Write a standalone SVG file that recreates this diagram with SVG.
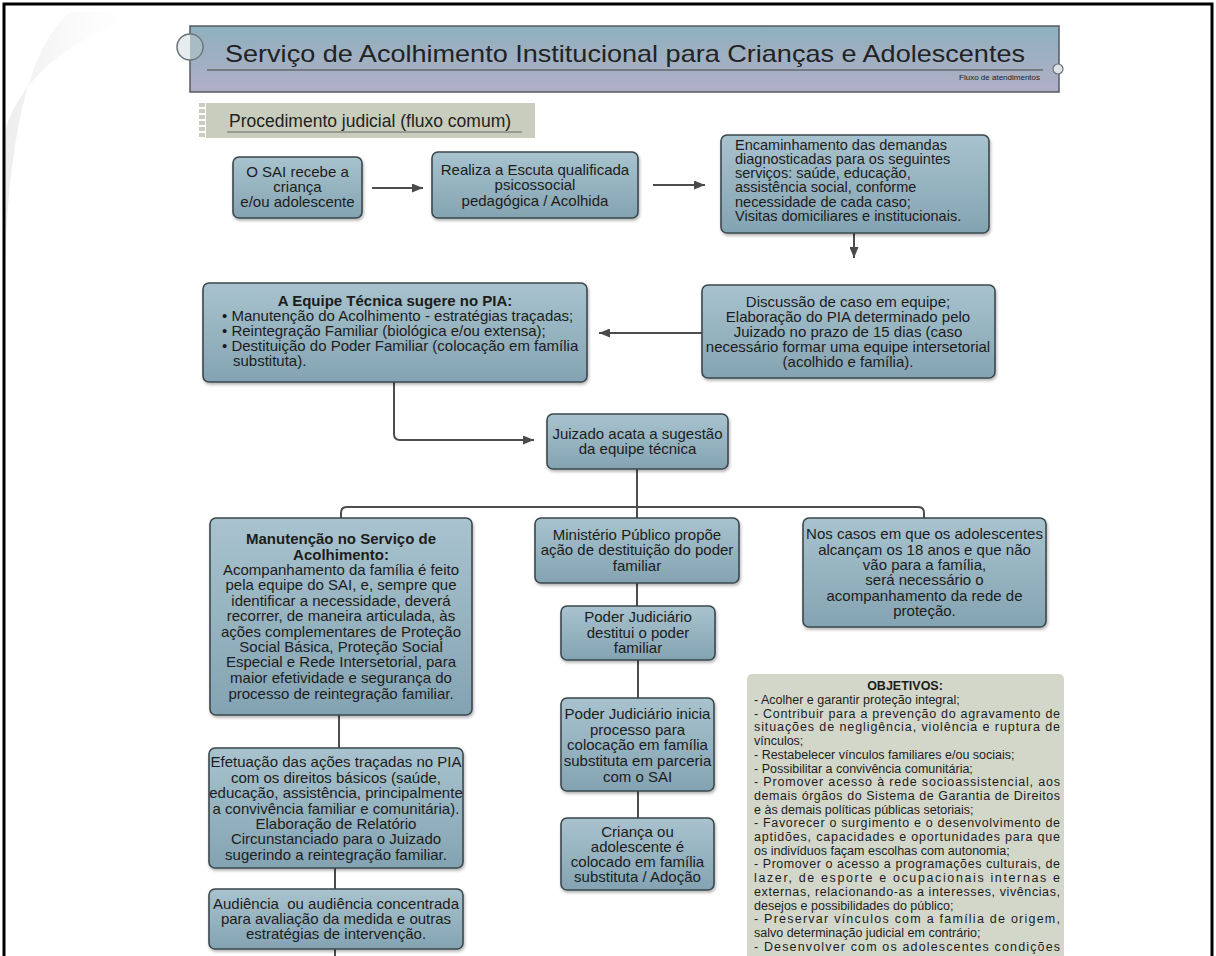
<svg xmlns="http://www.w3.org/2000/svg" width="1216" height="956" viewBox="0 0 1216 956">
<defs>
<linearGradient id="gBox" x1="0" y1="0" x2="0" y2="1">
<stop offset="0" stop-color="#a8c3ce"/>
<stop offset="1" stop-color="#84a3b2"/>
</linearGradient>
<linearGradient id="gBanner" x1="0" y1="0" x2="0" y2="1">
<stop offset="0" stop-color="#8eb0bd"/>
<stop offset="1" stop-color="#b2afc8"/>
</linearGradient>
<linearGradient id="gShade" x1="0" y1="0" x2="1" y2="0">
<stop offset="0" stop-color="#e8e8e8"/>
<stop offset="1" stop-color="#ffffff" stop-opacity="0"/>
</linearGradient>
<filter id="sh" x="-10%" y="-10%" width="130%" height="130%">
<feDropShadow dx="1" dy="2" stdDeviation="1.5" flood-color="#000" flood-opacity="0.3"/>
</filter>
<marker id="ah" markerUnits="userSpaceOnUse" markerWidth="11" markerHeight="9" refX="11" refY="4.5" orient="auto">
<path d="M0,0 L11,4.5 L0,9 Z" fill="#4a4a4a"/>
</marker>
<style>
.box { fill: url(#gBox); stroke: #3b484e; stroke-width: 1.6; filter: url(#sh); }
.t { font-family: "Liberation Sans", Arial, sans-serif; font-size: 15px; fill: #1c1c1c; text-anchor: middle; }
.l { text-anchor: start; }
.b { font-weight: bold; }
.s { font-size: 14.5px; }
.o { font-family: "Liberation Sans", Arial, sans-serif; font-size: 12.5px; fill: #1c1c1c; }
.conn { stroke: #4d4d4d; stroke-width: 2; fill: none; }
</style>
</defs>
<rect x="0" y="0" width="1216" height="956" fill="#ffffff"/>
<path d="M5,130 Q30,50 150,12 L70,12 Q12,60 5,260 Z" fill="url(#gShade)" opacity="0.8"/>
<path d="M4,956 V4 H1212 V956" fill="none" stroke="#000" stroke-width="3"/>

<g id="title">
<rect x="190" y="26" width="869" height="66" fill="url(#gBanner)" stroke="#555a60" stroke-width="1.5"/>
<circle cx="190" cy="47" r="13" fill="#e9ecee" stroke="#6a7379" stroke-width="1.5"/>
<path d="M190,34 A13,13 0 0 1 190,60" fill="#a8bcc6" stroke="#6a7379" stroke-width="1"/>
<circle cx="1058" cy="69" r="5" fill="#e0e3e6" stroke="#6a7379" stroke-width="1.2"/>
<line x1="207" y1="70" x2="1043" y2="70" stroke="#444" stroke-width="1"/>
<text x="225" y="62" font-family="Liberation Sans, Arial, sans-serif" font-size="24" fill="#222" textLength="800" lengthAdjust="spacingAndGlyphs">Serviço de Acolhimento Institucional para Crianças e Adolescentes</text>
<text x="1040" y="80" font-family="Liberation Sans, Arial, sans-serif" font-size="8" fill="#222" text-anchor="end">Fluxo de atendimentos</text>
</g>

<g id="procedimento">
<rect x="203" y="103" width="332" height="35" fill="#c9cdbd"/>
<rect x="198" y="103" width="8" height="35" fill="#ffffff"/>
<path d="M199,105 h6 M199,111 h6 M199,117 h6 M199,123 h6 M199,129 h6 M199,135 h6" stroke="#c9cdbd" stroke-width="4"/>
<line x1="227" y1="132" x2="522" y2="132" stroke="#6b6b6b" stroke-width="1"/>
<text x="229" y="127" font-family="Liberation Sans, Arial, sans-serif" font-size="17.5" fill="#222">Procedimento judicial (fluxo comum)</text>
</g>

<g id="connectors">
<line class="conn" x1="372" y1="188" x2="423" y2="188" marker-end="url(#ah)"/>
<line class="conn" x1="653" y1="185" x2="705" y2="185" marker-end="url(#ah)"/>
<line class="conn" x1="854" y1="233" x2="854" y2="258" marker-end="url(#ah)"/>
<line class="conn" x1="702" y1="333" x2="599" y2="333" marker-end="url(#ah)"/>
<path class="conn" d="M394,382 V434 Q394,440 400,440 H534" marker-end="url(#ah)"/>
<path class="conn" d="M637,469 V518"/>
<path class="conn" d="M341,518 V513 Q341,507 347,507 H918 Q924,507 924,513 V518"/>
<path class="conn" d="M637,583 V606"/>
<path class="conn" d="M638,660 V698"/>
<path class="conn" d="M638,791 V818"/>
<path class="conn" d="M339,715 V748"/>
<path class="conn" d="M335,868 V889"/>
<path class="conn" d="M335,949 V958"/>
</g>

<g id="n-recebe">
<rect class="box" x="233" y="157" width="129" height="61" rx="6"/>
<text class="t" x="297.5" y="177">O SAI recebe a</text>
<text class="t" x="297.5" y="192">criança</text>
<text class="t" x="297.5" y="207">e/ou adolescente</text>
</g>

<g id="n-escuta">
<rect class="box" x="432" y="152" width="206" height="66" rx="6"/>
<text class="t" x="535" y="174.5">Realiza a Escuta qualificada</text>
<text class="t" x="535" y="190">psicossocial</text>
<text class="t" x="535" y="206">pedagógica / Acolhida</text>
</g>

<g id="n-encaminhamento">
<rect class="box" x="721" y="135" width="268" height="98" rx="6"/>
<text class="t l s" x="735" y="149.5">Encaminhamento das demandas</text>
<text class="t l s" x="735" y="163.8">diagnosticadas para os seguintes</text>
<text class="t l s" x="735" y="178.1">serviços: saúde, educação,</text>
<text class="t l s" x="735" y="192.4">assistência social, conforme</text>
<text class="t l s" x="735" y="206.7">necessidade de cada caso;</text>
<text class="t l s" x="735" y="221">Visitas domiciliares e institucionais.</text>
</g>

<g id="n-discussao">
<rect class="box" x="702" y="285" width="293" height="93" rx="6"/>
<text class="t" x="848" y="306.5">Discussão de caso em equipe;</text>
<text class="t" x="848" y="321.5">Elaboração do PIA determinado pelo</text>
<text class="t" x="848" y="336.5">Juizado no prazo de 15 dias (caso</text>
<text class="t" x="848" y="351.5">necessário formar uma equipe intersetorial</text>
<text class="t" x="848" y="366.5">(acolhido e família).</text>
</g>

<g id="n-equipe">
<rect class="box" x="203" y="283" width="384" height="99" rx="6"/>
<text class="t b" x="395" y="306">A Equipe Técnica sugere no PIA:</text>
<text class="t l" x="222" y="321">• Manutenção do Acolhimento - estratégias traçadas;</text>
<text class="t l" x="222" y="336">• Reintegração Familiar (biológica e/ou extensa);</text>
<text class="t l" x="222" y="351">• Destituição do Poder Familiar (colocação em família</text>
<text class="t l" x="233" y="366">substituta).</text>
</g>

<g id="n-juizado">
<rect class="box" x="547" y="414" width="181" height="55" rx="6"/>
<text class="t" x="637.5" y="439">Juizado acata a sugestão</text>
<text class="t" x="637.5" y="454">da equipe técnica</text>
</g>

<g id="n-manutencao">
<rect class="box" x="210" y="518" width="262" height="197" rx="6"/>
<text class="t b" x="341" y="543.5">Manutenção no Serviço de</text>
<text class="t b" x="341" y="559.5">Acolhimento:</text>
<text class="t" x="341" y="574.5">Acompanhamento da família é feito</text>
<text class="t" x="341" y="590">pela equipe do SAI, e, sempre que</text>
<text class="t" x="341" y="605.5">identificar a necessidade, deverá</text>
<text class="t" x="341" y="621">recorrer, de maneira articulada, às</text>
<text class="t" x="341" y="636.5">ações complementares de Proteção</text>
<text class="t" x="341" y="652">Social Básica, Proteção Social</text>
<text class="t" x="341" y="667">Especial e Rede Intersetorial, para</text>
<text class="t" x="341" y="682.5">maior efetividade e segurança do</text>
<text class="t" x="341" y="698.5">processo de reintegração familiar.</text>
</g>

<g id="n-efetuacao">
<rect class="box" x="209" y="748" width="254" height="120" rx="6"/>
<text class="t" x="336" y="767">Efetuação das ações traçadas no PIA</text>
<text class="t" x="336" y="782.5">com os direitos básicos (saúde,</text>
<text class="t" x="336" y="798">educação, assistência, principalmente</text>
<text class="t" x="336" y="813.5">a convivência familiar e comunitária).</text>
<text class="t" x="336" y="828.5">Elaboração de Relatório</text>
<text class="t" x="336" y="844">Circunstanciado para o Juizado</text>
<text class="t" x="336" y="859.5">sugerindo a reintegração familiar.</text>
</g>

<g id="n-audiencia">
<rect class="box" x="209" y="889" width="254" height="60" rx="6"/>
<text class="t" x="336" y="909" xml:space="preserve">Audiência  ou audiência concentrada</text>
<text class="t" x="336" y="924">para avaliação da medida e outras</text>
<text class="t" x="336" y="939">estratégias de intervenção.</text>
</g>

<g id="n-ministerio">
<rect class="box" x="535" y="518" width="204" height="65" rx="6"/>
<text class="t" x="637" y="540">Ministério Público propõe</text>
<text class="t" x="637" y="555">ação de destituição do poder</text>
<text class="t" x="637" y="570.5">familiar</text>
</g>

<g id="n-destitui">
<rect class="box" x="561" y="606" width="154" height="54" rx="6"/>
<text class="t" x="638" y="622">Poder Judiciário</text>
<text class="t" x="638" y="637.5">destitui o poder</text>
<text class="t" x="638" y="653">familiar</text>
</g>

<g id="n-inicia">
<rect class="box" x="561" y="698" width="153" height="93" rx="6"/>
<text class="t" x="637.5" y="718.5">Poder Judiciário inicia</text>
<text class="t" x="637.5" y="734.5">processo para</text>
<text class="t" x="637.5" y="750">colocação em família</text>
<text class="t" x="637.5" y="766">substituta em parceria</text>
<text class="t" x="637.5" y="782">com o SAI</text>
</g>

<g id="n-crianca">
<rect class="box" x="561" y="818" width="153" height="72" rx="6"/>
<text class="t" x="637.5" y="837">Criança ou</text>
<text class="t" x="637.5" y="852">adolescente é</text>
<text class="t" x="637.5" y="867">colocado em família</text>
<text class="t" x="637.5" y="882">substituta / Adoção</text>
</g>

<g id="n-18anos">
<rect class="box" x="803" y="518" width="243" height="109" rx="6"/>
<text class="t" x="924.5" y="539">Nos casos em que os adolescentes</text>
<text class="t" x="924.5" y="554.5">alcançam os 18 anos e que não</text>
<text class="t" x="924.5" y="569.5">vão para a família,</text>
<text class="t" x="924.5" y="585">será necessário o</text>
<text class="t" x="924.5" y="600.5">acompanhamento da rede de</text>
<text class="t" x="924.5" y="616">proteção.</text>
</g>

<g id="n-objetivos">
<rect x="747" y="674" width="317" height="300" rx="5" fill="#d3d7ca"/>
<text class="o b" x="905" y="690" text-anchor="middle" font-size="13">OBJETIVOS:</text>
<text class="o" x="754" y="704">- Acolher e garantir proteção integral;</text>
<text class="o" x="754" y="717.7" textLength="306">- Contribuir para a prevenção do agravamento de</text>
<text class="o" x="754" y="731.4" textLength="306">situações de negligência, violência e ruptura de</text>
<text class="o" x="754" y="745.1">vínculos;</text>
<text class="o" x="754" y="758.8">- Restabelecer vínculos familiares e/ou sociais;</text>
<text class="o" x="754" y="772.5">- Possibilitar a convivência comunitária;</text>
<text class="o" x="754" y="786.2" textLength="306">- Promover acesso à rede socioassistencial, aos</text>
<text class="o" x="754" y="799.9" textLength="306">demais órgãos do Sistema de Garantia de Direitos</text>
<text class="o" x="754" y="813.6">e às demais políticas públicas setoriais;</text>
<text class="o" x="754" y="827.3" textLength="306">- Favorecer o surgimento e o desenvolvimento de</text>
<text class="o" x="754" y="841" textLength="306">aptidões, capacidades e oportunidades para que</text>
<text class="o" x="754" y="854.7">os indivíduos façam escolhas com autonomia;</text>
<text class="o" x="754" y="868.4" textLength="306">- Promover o acesso a programações culturais, de</text>
<text class="o" x="754" y="882.1" textLength="306">lazer, de esporte e ocupacionais internas e</text>
<text class="o" x="754" y="895.8" textLength="306">externas, relacionando-as a interesses, vivências,</text>
<text class="o" x="754" y="909.5">desejos e possibilidades do público;</text>
<text class="o" x="754" y="923.2" textLength="306">- Preservar vínculos com a família de origem,</text>
<text class="o" x="754" y="936.9">salvo determinação judicial em contrário;</text>
<text class="o" x="754" y="950.6" textLength="306">- Desenvolver com os adolescentes condições</text>
</g>
</svg>
